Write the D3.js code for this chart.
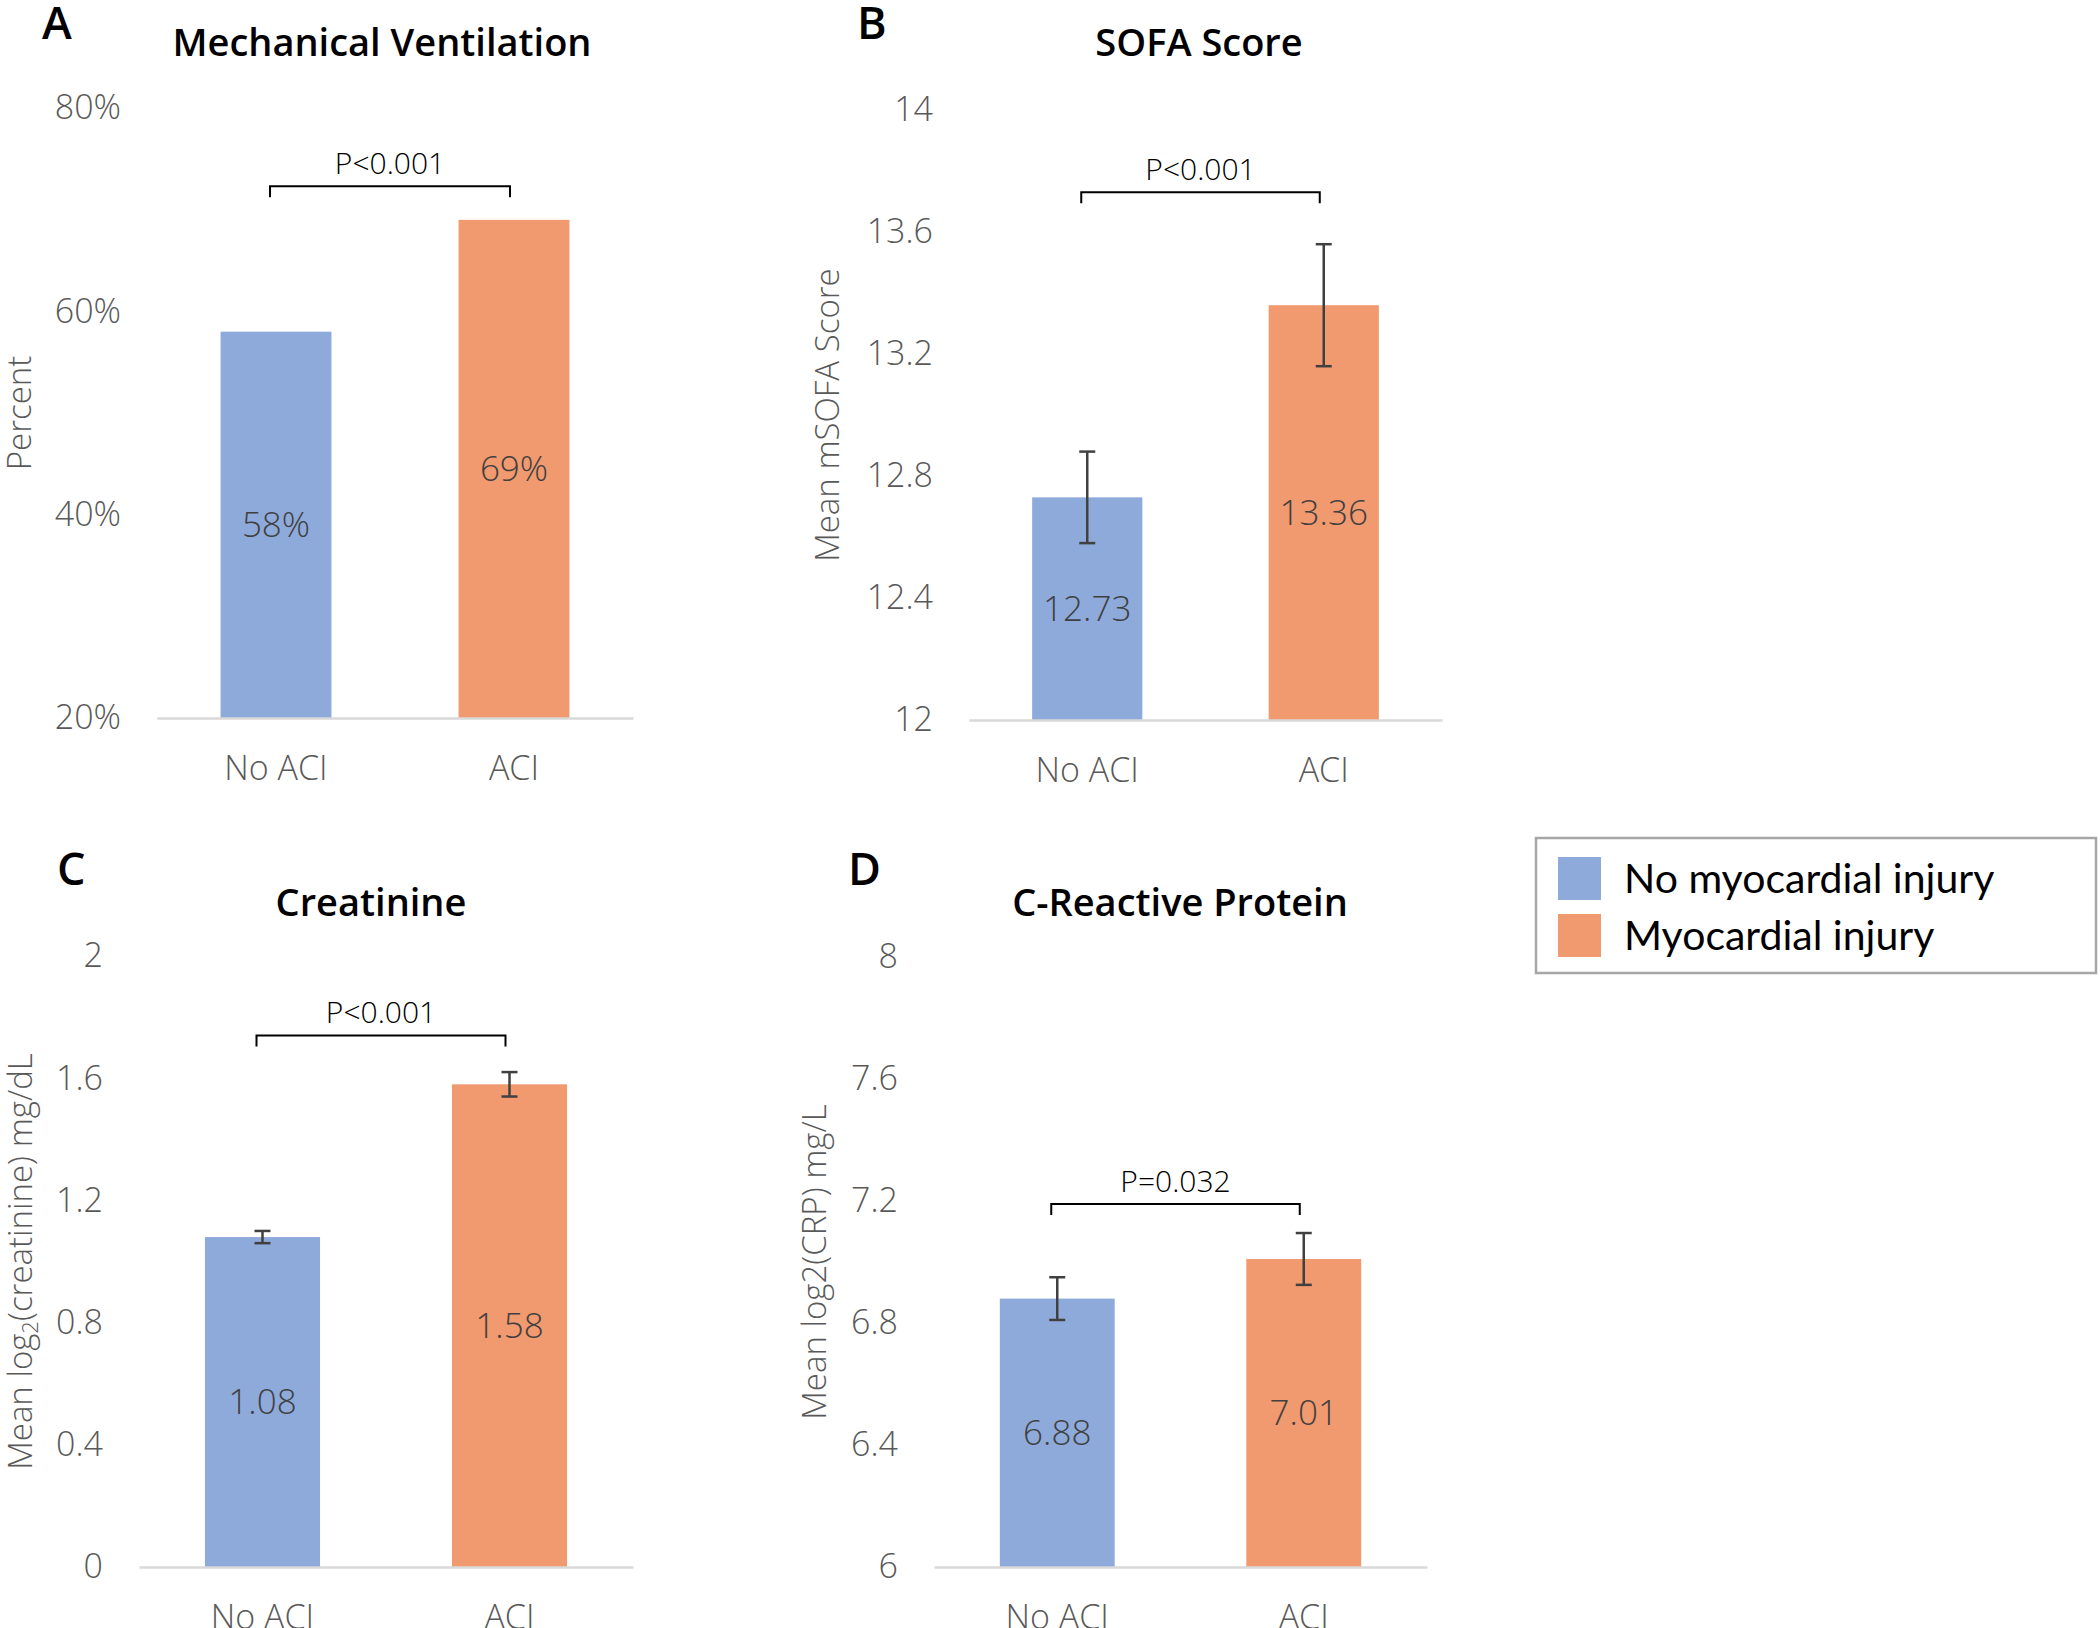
<!DOCTYPE html>
<html>
<head>
<meta charset="utf-8">
<script src="https://cdn.jsdelivr.net/npm/d3@7"></script>
<style>
  html, body { margin: 0; padding: 0; background: #fff; }
  svg { display: block; }
  .lbl { font-family: "Open Sans", "Noto Sans", sans-serif; font-weight: 300; }
</style>
</head>
<body>
<svg id="chart" width="2100" height="1628"></svg>
<script>
// ---------------- data ----------------
const categories = ["No ACI", "ACI"];
const groups = ["No myocardial injury", "Myocardial injury"];
const groupColors = ["#8EAADB", "#F1996F"];

const panelLetters = ["A", "B", "C", "D"];
const panelTitles = ["Mechanical Ventilation", "SOFA Score", "Creatinine", "C-Reactive Protein"];
const yAxisTitles = ["Percent", "Mean mSOFA Score", "Mean log_2(creatinine) mg/dL", "Mean log2(CRP) mg/L"];

const ventilationPct = [0.58, 0.69];
const sofaMeans = [12.73, 13.36];
const sofaErrors = [0.15, 0.20];
const creatinineMeans = [1.08, 1.58];
const creatinineErrors = [0.02, 0.04];
const crpMeans = [6.88, 7.01];
const crpErrors = [0.07, 0.085];

const pValueLabels = ["P<0.001", "P<0.001", "P<0.001", "P=0.032"];
const bracketLevels = [0.723, 13.73, 1.74, 7.19];

const yDomains = [[0.2, 0.8], [12, 14], [0, 2], [6, 8]];
const yTickValues = [
  [0.2, 0.4, 0.6, 0.8],
  [12, 12.4, 12.8, 13.2, 13.6, 14],
  [0, 0.4, 0.8, 1.2, 1.6, 2],
  [6, 6.4, 6.8, 7.2, 7.6, 8]
];

// ---------------- layout ----------------
const layouts = [
  { x0: 157, x1: 633, yb: 718, yt: 108, titleX: 382, titleY: 56, letterX: 42, letterY: 39, axTitleX: 19, tickFmt: d3.format(".0%"), valFmt: d3.format(".0%") },
  { x0: 969, x1: 1442, yb: 720, yt: 110, titleX: 1199, titleY: 56, letterX: 857, letterY: 39, axTitleX: 827, tickFmt: d3.format("~f"), valFmt: d3.format(".2f") },
  { x0: 139, x1: 633, yb: 1567, yt: 956, titleX: 371, titleY: 916, letterX: 57, letterY: 885, axTitleX: 20, tickFmt: d3.format("~f"), valFmt: d3.format(".2f") },
  { x0: 934, x1: 1427, yb: 1567, yt: 957, titleX: 1180, titleY: 916, letterX: 848, letterY: 885, axTitleX: 814, tickFmt: d3.format("~f"), valFmt: d3.format(".2f") }
];

const panelValues = [ventilationPct, sofaMeans, creatinineMeans, crpMeans];
const panelErrors = [null, sofaErrors, creatinineErrors, crpErrors];

const svg = d3.select("#chart");
const tickColor = "#595959";
const valueColor = "#404040";

layouts.forEach((L, i) => {
  const g = svg.append("g");
  const x = d3.scaleBand().domain(categories).range([L.x0, L.x1]).paddingInner(0.534).paddingOuter(0.267);
  const y = d3.scaleLinear().domain(yDomains[i]).range([L.yb, L.yt]);

  // panel letter
  g.append("text").attr("x", L.letterX).attr("y", L.letterY)
    .attr("font-family", "'Open Sans', 'Noto Sans', sans-serif").attr("font-weight", 600)
    .attr("font-size", 45).attr("fill", "#000").text(panelLetters[i]);

  // title
  g.append("text").attr("x", L.titleX).attr("y", L.titleY).attr("text-anchor", "middle")
    .attr("font-family", "'Open Sans', 'Noto Sans', sans-serif").attr("font-weight", 600)
    .attr("font-size", 38).attr("fill", "#000").text(panelTitles[i]);

  // y axis
  const yAxis = d3.axisLeft(y).tickValues(yTickValues[i]).tickFormat(L.tickFmt).tickSize(0).tickPadding(36);
  const ya = g.append("g").attr("transform", `translate(${L.x0},0)`).call(yAxis);
  ya.select(".domain").remove();
  ya.selectAll("text").attr("class", "lbl").attr("font-size", 34).attr("fill", tickColor);

  // bars
  const vals = panelValues[i];
  g.selectAll("rect.bar").data(vals).enter().append("rect").attr("class", "bar")
    .attr("x", (d, j) => x(categories[j]))
    .attr("width", x.bandwidth())
    .attr("y", d => y(d))
    .attr("height", d => y(yDomains[i][0]) - y(d))
    .attr("fill", (d, j) => groupColors[j]);

  // x axis
  const xAxis = d3.axisBottom(x).tickSize(0).tickSizeOuter(0).tickPadding(38);
  const xa = g.append("g").attr("transform", `translate(0,${L.yb})`).call(xAxis);
  xa.select(".domain").attr("stroke", "#D9D9D9").attr("stroke-width", 2.5);
  xa.selectAll("text").attr("class", "lbl").attr("font-size", 34).attr("fill", tickColor);

  // error bars
  const errs = panelErrors[i];
  if (errs) {
    vals.forEach((v, j) => {
      const cx = x(categories[j]) + x.bandwidth() / 2;
      const yTop = y(v + errs[j]), yBot = y(v - errs[j]);
      const eg = g.append("g").attr("stroke", "#404040").attr("stroke-width", 2.5);
      eg.append("line").attr("x1", cx).attr("x2", cx).attr("y1", yTop).attr("y2", yBot);
      eg.append("line").attr("x1", cx - 8).attr("x2", cx + 8).attr("y1", yTop).attr("y2", yTop);
      eg.append("line").attr("x1", cx - 8).attr("x2", cx + 8).attr("y1", yBot).attr("y2", yBot);
    });
  }

  // value labels (centered in bar)
  g.selectAll("text.val").data(vals).enter().append("text").attr("class", "val lbl")
    .attr("x", (d, j) => x(categories[j]) + x.bandwidth() / 2)
    .attr("y", d => (y(d) + y(yDomains[i][0])) / 2)
    .attr("dy", "0.35em").attr("text-anchor", "middle")
    .attr("font-size", 35).attr("fill", valueColor)
    .text(d => L.valFmt(d));

  // significance bracket
  const bx0 = x(categories[0]) + x.bandwidth() / 2 - 6;
  const bx1 = x(categories[1]) + x.bandwidth() / 2 - 4;
  const by = y(bracketLevels[i]);
  g.append("path")
    .attr("d", `M${bx0},${by + 11}V${by}H${bx1}V${by + 11}`)
    .attr("fill", "none").attr("stroke", "#000").attr("stroke-width", 2);
  g.append("text").attr("class", "lbl").attr("x", (bx0 + bx1) / 2).attr("y", by - 23)
    .attr("dy", "0.35em").attr("text-anchor", "middle")
    .attr("font-size", 30).attr("font-weight", 400).attr("fill", "#000").text(pValueLabels[i]);

  // y axis title (rotated)
  const cy = (L.yb + L.yt) / 2;
  const at = g.append("text").attr("class", "lbl")
    .attr("transform", `translate(${L.axTitleX},${cy}) rotate(-90)`)
    .attr("text-anchor", "middle").attr("dy", "0.35em")
    .attr("font-size", 33).attr("fill", tickColor);
  const parts = yAxisTitles[i].split("_2");
  if (parts.length === 2) {
    at.append("tspan").text(parts[0]);
    at.append("tspan").attr("font-size", 22).attr("dy", "0.3em").text("2");
    at.append("tspan").attr("dy", "-0.2em").text(parts[1]);
  } else {
    at.text(yAxisTitles[i]);
  }
});

// ---------------- legend ----------------
const leg = svg.append("g");
leg.append("rect").attr("x", 1536).attr("y", 838).attr("width", 560).attr("height", 135)
  .attr("fill", "#fff").attr("stroke", "#A6A6A6").attr("stroke-width", 2.5);
const legY = d3.scalePoint().domain(groups).range([878.5, 935.5]);
groups.forEach((gname, j) => {
  leg.append("rect").attr("x", 1558).attr("y", legY(gname) - 21.5).attr("width", 43).attr("height", 43)
    .attr("fill", groupColors[j]);
  leg.append("text").attr("x", 1624).attr("y", legY(gname)).attr("dy", "0.35em")
    .attr("font-family", "Lato, 'Open Sans', sans-serif").attr("font-size", 41).attr("fill", "#000")
    .text(gname);
});
</script>
</body>
</html>
